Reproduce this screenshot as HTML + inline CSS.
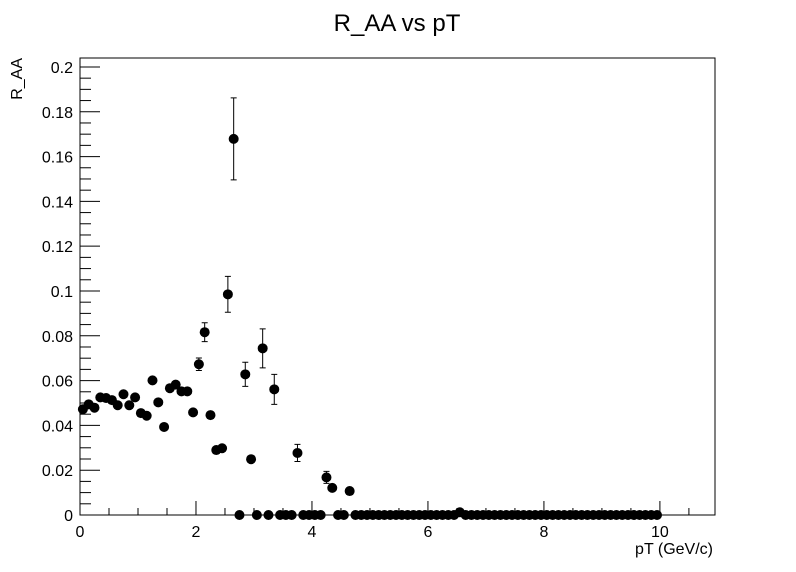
<!DOCTYPE html>
<html><head><meta charset="utf-8"><style>
html,body{margin:0;padding:0;background:#fff;}
svg{display:block;font-family:"Liberation Sans",sans-serif;}
</style></head><body>
<svg id="chart" width="796" height="572" viewBox="0 0 796 572" xmlns="http://www.w3.org/2000/svg">
<rect width="796" height="572" fill="#fff"/>
<text x="397" y="31" font-size="24" text-anchor="middle">R_AA vs pT</text>
<rect x="80" y="58" width="635" height="457" fill="none" stroke="#000" stroke-width="1"/>
<text transform="translate(22,58) rotate(-90)" font-size="16" text-anchor="end">R_AA</text>
<text x="713" y="554" font-size="16" text-anchor="end">pT (GeV/c)</text>
<g id="axes"></g>
<g id="marks"></g>
</svg>
<script>
const pt = [];
const raa = [0.0472,0.0494,0.0479,0.0525,0.0522,0.0513,0.049,0.0539,0.049,0.0525,
0.0455,0.0443,0.0601,0.0503,0.0393,0.0566,0.0582,0.0552,0.0552,0.0458,
0.0673,0.0816,0.0446,0.029,0.0298,0.0985,0.1679,0,0.0628,0.0249,
0,0.0744,0,0.0561,0,0,0,0.0277,0,0,
0,0,0.0168,0.0121,0,0,0.0107,0,0,0,
0,0,0,0,0,0,0,0,0,0,
0,0,0,0,0,0.0012,0,0,0,0,
0,0,0,0,0,0,0,0,0,0,
0,0,0,0,0,0,0,0,0,0,
0,0,0,0,0,0,0,0,0,0];
const raaErr = [0.001,0.001,0.001,0.001,0.001,0.001,0.001,0.001,0.001,0.001,
0.001,0.001,0.0012,0.0012,0.0012,0.0013,0.0014,0.0014,0.0015,0.0016,
0.0028,0.0042,0.0016,0.0015,0.0016,0.008,0.0183,0,0.0054,0.0015,
0,0.0087,0,0.0067,0,0,0,0.0038,0,0,
0,0,0.0027,0.0018,0,0,0.0014,0,0,0,
0,0,0,0,0,0,0,0,0,0,
0,0,0,0,0,0.0005,0,0,0,0,
0,0,0,0,0,0,0,0,0,0,
0,0,0,0,0,0,0,0,0,0,
0,0,0,0,0,0,0,0,0,0];
for (let i = 0; i < raa.length; i++) pt.push(0.05 + 0.1 * i);
const xTicks = [0, 2, 4, 6, 8, 10];
const xTickLabels = ["0", "2", "4", "6", "8", "10"];
const yTicks = [0, 0.02, 0.04, 0.06, 0.08, 0.1, 0.12, 0.14, 0.16, 0.18, 0.2];
const yTickLabels = ["0", "0.02", "0.04", "0.06", "0.08", "0.1", "0.12", "0.14", "0.16", "0.18", "0.2"];

const L = 80, R = 715, T = 58, B = 515;
const xMin = 0, xMax = 10.95, yMin = 0, yMax = 0.204;
function xs(v){ return L + (v - xMin) / (xMax - xMin) * (R - L); }
function ys(v){ return B - (v - yMin) / (yMax - yMin) * (B - T); }
const NS = "http://www.w3.org/2000/svg";
const axes = document.getElementById('axes');
const marks = document.getElementById('marks');
function mk(tag, attrs, parent){ const e = document.createElementNS(NS, tag); for (const k in attrs) e.setAttribute(k, attrs[k]); parent.appendChild(e); return e; }

for (let v = 0; v <= 10.9; v += 0.5) {
  const major = Math.abs(v / 2 - Math.round(v / 2)) < 1e-6;
  const t = mk('line', {x1: xs(v), x2: xs(v), y1: B, y2: B - (major ? 14 : 7), stroke: '#000'}, axes);
  
  
}
xTicks.forEach((v, i) => {
  const t = mk('text', {x: xs(v), y: 537, 'font-size': 16, 'text-anchor': 'middle'}, axes);
  t.textContent = xTickLabels[i];
  
  
});
for (let k = 0; k <= 40; k++) {
  const v = k * 0.005;
  const major = k % 4 === 0;
  const t = mk('line', {x1: L, x2: L + (major ? 20 : 11), y1: ys(v), y2: ys(v), stroke: '#000'}, axes);
  
  
}
yTicks.forEach((v, i) => {
  const t = mk('text', {x: 73, y: ys(v) + 6, 'font-size': 16, 'text-anchor': 'end'}, axes);
  t.textContent = yTickLabels[i];
  
  
});

pt.forEach((p, i) => {
  const cx = xs(p), cy = ys(raa[i]);
  const e = raaErr[i];
  if (e > 0) {
    const y1 = ys(raa[i] + e), y2 = ys(raa[i] - e);
    if (y2 - y1 > 9) {
      const g = mk('path', {d: `M${cx},${y1}V${y2}M${cx-3},${y1}H${cx+3}M${cx-3},${y2}H${cx+3}`, stroke: '#000', 'stroke-width': 1, fill: 'none'}, marks);
      
      
    }
  }
  const c = mk('circle', {cx: cx, cy: cy, r: 5, fill: '#000'}, marks);
  
  
});
</script>
</body></html>
